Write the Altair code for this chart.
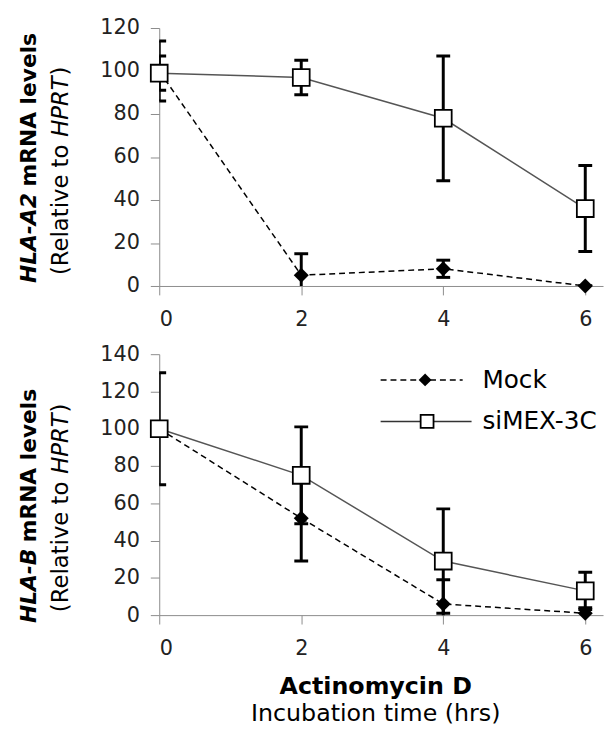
import altair as alt
import pandas as pd

times = [0, 2, 4, 6]
series_names = ["Mock", "siMEX-3C"]

# HLA-A2 panel
a2_mock = [100, 5, 8, 0]
a2_mock_err = [14, 10, 4, 0]
a2_si = [99, 97, 78, 36]
a2_si_err = [8, 8, 29, 20]

# HLA-B panel
b_mock = [100, 52, 6, 1]
b_mock_err = [0, 23, 13, 3]
b_si = [100, 75, 29, 13]
b_si_err = [30, 26, 28, 10]

x_ticks = [0, 2, 4, 6]
FONT = "DejaVu Sans"
W = 449


def one(label):
    return pd.DataFrame({"s": [label]})


def vtext(label, x, y, align, size, weight="normal", style="normal"):
    return alt.Chart(one(label)).mark_text(
        angle=270, align=align, baseline="middle", font=FONT, fontSize=size,
        fontWeight=weight, fontStyle=style, color="black"
    ).encode(text="s:N", x=alt.value(x), y=alt.value(y))


def htext(label, x, y, align, size, weight="normal", baseline="alphabetic"):
    return alt.Chart(one(label)).mark_text(
        align=align, baseline=baseline, font=FONT, fontSize=size,
        fontWeight=weight, color="black"
    ).encode(text="s:N", x=alt.value(x), y=alt.value(y))


def panel(mock, mock_err, si, si_err, ymax, gene, title_pos):
    df = pd.DataFrame({
        "t": times * 2,
        "v": mock + si,
        "e": mock_err + si_err,
        "series": [series_names[0]] * 4 + [series_names[1]] * 4,
    })
    df["lo"] = df["v"] - df["e"]
    df["hi"] = df["v"] + df["e"]

    xs = alt.Scale(domain=[0, 6.25], nice=False)
    ys = alt.Scale(domain=[0, ymax], nice=False)
    xax = alt.Axis(values=x_ticks, title=None, labelPadding=14, format="d")
    yax = alt.Axis(values=list(range(0, ymax + 1, 20)), title=None, labelPadding=11)

    base = alt.Chart(df)
    X = alt.X("t:Q", scale=xs, axis=xax)

    mock_line = base.transform_filter(alt.datum.series == "Mock").mark_line(
        color="black", strokeDash=[6, 4], strokeWidth=1.5
    ).encode(x=X, y=alt.Y("v:Q", scale=ys, axis=yax))
    si_line = base.transform_filter(alt.datum.series == "siMEX-3C").mark_line(
        color="#555555", strokeWidth=1.5
    ).encode(x=X, y=alt.Y("v:Q", scale=ys, axis=yax))
    bars = base.mark_rule(color="black", strokeWidth=3, clip=True).encode(
        x=X, y=alt.Y("lo:Q", scale=ys, axis=yax), y2="hi:Q"
    )
    cap_hi = base.mark_tick(orient="horizontal", size=14, thickness=3, color="black",
                            clip=True, opacity=1).encode(
        x=X, y=alt.Y("hi:Q", scale=ys, axis=yax))
    cap_lo = base.mark_tick(orient="horizontal", size=14, thickness=3, color="black",
                            clip=True, opacity=1).encode(
        x=X, y=alt.Y("lo:Q", scale=ys, axis=yax))
    mock_pts = base.transform_filter(alt.datum.series == "Mock").mark_point(
        shape="diamond", filled=True, color="black", size=230, opacity=1
    ).encode(x=X, y=alt.Y("v:Q", scale=ys, axis=yax))
    si_pts = base.transform_filter(alt.datum.series == "siMEX-3C").mark_point(
        shape="square", fill="white", stroke="black", strokeWidth=1.8,
        size=290, opacity=1, fillOpacity=1
    ).encode(x=X, y=alt.Y("v:Q", scale=ys, axis=yax))

    l1_start, l1_end, l2_start = title_pos
    # widths of "(Relative to " and "HPRT" in DejaVu Sans at 23px
    w_rel = 140
    w_hprt = 61
    titles = [
        vtext(gene, -132, l1_start, "left", 22, "bold", "italic"),
        vtext("mRNA levels", -132, l1_end, "right", 22, "bold"),
        vtext("(Relative to", -99, l2_start, "left", 23),
        vtext("HPRT", -99, l2_start - w_rel, "left", 23, "normal", "italic"),
        vtext(")", -99, l2_start - w_rel - w_hprt - 1, "left", 23),
    ]
    return [mock_line, si_line, bars, cap_hi, cap_lo, mock_pts, si_pts] + titles


top_layers = panel(a2_mock, a2_mock_err, a2_si, a2_si_err, 120, "HLA-A2",
                   (258, 5, 250))
bot_layers = panel(b_mock, b_mock_err, b_si, b_si_err, 140, "HLA-B",
                   (272, 35, 261))

# legend (bottom panel)
leg = one("x")
legend_layers = [
    alt.Chart(leg).mark_rule(color="black", strokeDash=[6, 4], strokeWidth=1.5).encode(
        x=alt.value(224), x2=alt.value(307), y=alt.value(26)),
    alt.Chart(leg).mark_point(shape="diamond", filled=True, color="black", size=170,
                              opacity=1).encode(x=alt.value(269), y=alt.value(26)),
    htext(series_names[0], 327, 26, "left", 25, baseline="middle"),
    alt.Chart(leg).mark_rule(color="#333333", strokeWidth=1.5).encode(
        x=alt.value(224), x2=alt.value(316), y=alt.value(68)),
    alt.Chart(leg).mark_point(shape="square", fill="white", stroke="black",
                              strokeWidth=1.8, size=170, opacity=1,
                              fillOpacity=1).encode(x=alt.value(271), y=alt.value(68)),
    htext(series_names[1], 327, 68, "left", 25, baseline="middle"),
]

xtitle_layers = [
    htext("Actinomycin D", 219, 344, "center", 24, "bold"),
    htext("Incubation time (hrs)", 219, 371, "center", 24),
]

top = alt.layer(*top_layers).properties(width=W, height=261)
bottom = alt.layer(*(bot_layers + legend_layers + xtitle_layers)).properties(width=W, height=264)

chart = alt.vconcat(top, bottom, spacing=69, bounds="flush").properties(
    padding={"left": 10, "top": 5, "right": 2, "bottom": 2}
).configure_view(stroke=None).configure_axis(
    domainColor="#8c8c8c", tickColor="#8c8c8c", tickSize=9, domainWidth=1,
    tickWidth=1, labelFont=FONT, labelFontSize=21, labelColor="#222222", grid=False
)

chart.save("out.html", embed_options={"renderer": "svg", "actions": False})
